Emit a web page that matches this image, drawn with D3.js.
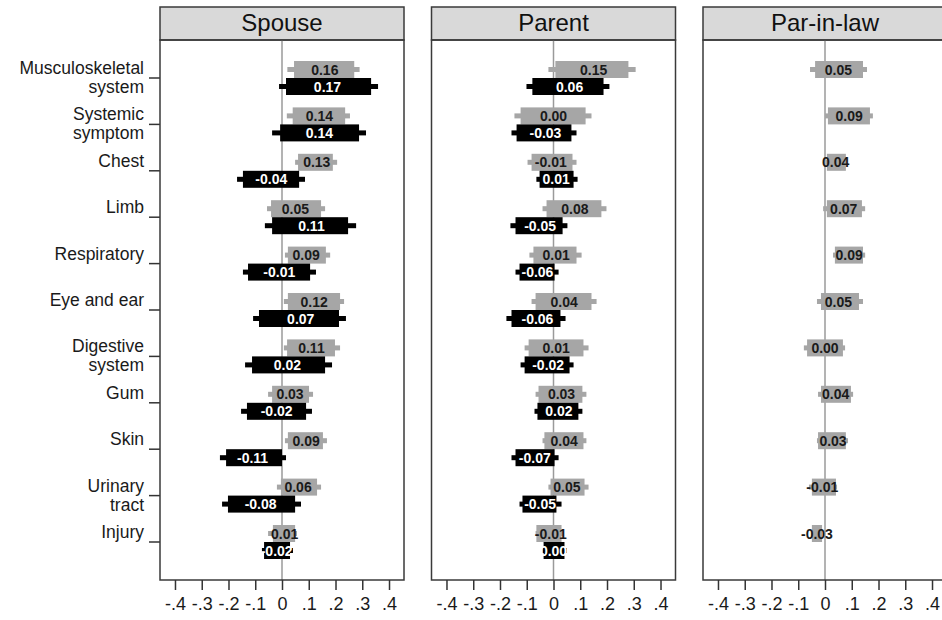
<!DOCTYPE html>
<html>
<head>
<meta charset="utf-8">
<script src="https://cdn.jsdelivr.net/npm/d3@7"></script>
<style>
body { margin: 0; background: #fff; }
svg { display: block; font-family: Arial, "Liberation Sans", sans-serif; }
</style>
</head>
<body>
<div id="chart"></div>
<script>
// categories (top to bottom), label lines
let categories = ["Musculoskeletal system", "Systemic symptom", "Chest", "Limb", "Respiratory",
  "Eye and ear", "Digestive system", "Gum", "Skin", "Urinary tract", "Injury"];
let catLines = [["Musculoskeletal", "system"], ["Systemic", "symptom"], ["Chest"], ["Limb"], ["Respiratory"],
  ["Eye and ear"], ["Digestive", "system"], ["Gum"], ["Skin"], ["Urinary", "tract"], ["Injury"]];

let panels = ["Spouse", "Parent", "Par-in-law"];
let ticks = [-0.4, -0.3, -0.2, -0.1, 0, 0.1, 0.2, 0.3, 0.4];

// estimates + intervals [outer lo, inner lo, inner hi, outer hi]
let spouseGreyEst = [0.16, 0.14, 0.13, 0.05, 0.09, 0.12, 0.11, 0.03, 0.09, 0.06, 0.01];
let spouseGreyCI = [[0.02, 0.045, 0.27, 0.29], [0.018, 0.04, 0.236, 0.254], [0.049, 0.06, 0.19, 0.206],
  [-0.056, -0.041, 0.146, 0.161], [0.011, 0.022, 0.164, 0.18], [0.007, 0.022, 0.217, 0.232],
  [0.007, 0.019, 0.198, 0.217], [-0.052, -0.037, 0.101, 0.116], [0.011, 0.022, 0.153, 0.168],
  [-0.019, -0.004, 0.131, 0.146], [-0.052, -0.034, 0.049, 0.056]];
let spouseBlackEst = [0.17, 0.14, -0.04, 0.11, -0.01, 0.07, 0.02, -0.02, -0.11, -0.08, -0.02];
let spouseBlackCI = [[-0.011, 0.015, 0.333, 0.359], [-0.037, -0.007, 0.288, 0.314], [-0.168, -0.146, 0.064, 0.086],
  [-0.064, -0.037, 0.247, 0.277], [-0.146, -0.127, 0.105, 0.127], [-0.108, -0.086, 0.213, 0.239],
  [-0.138, -0.112, 0.161, 0.187], [-0.153, -0.131, 0.09, 0.112], [-0.232, -0.209, 0, 0.015],
  [-0.224, -0.202, 0.049, 0.071], [-0.075, -0.067, 0.03, 0.041]];

let parentGreyEst = [0.15, 0.00, -0.01, 0.08, 0.01, 0.04, 0.01, 0.03, 0.04, 0.05, -0.01];
let parentGreyCI = [[-0.019, 0.007, 0.28, 0.307], [-0.146, -0.123, 0.12, 0.142], [-0.097, -0.082, 0.071, 0.086],
  [-0.041, -0.026, 0.179, 0.198], [-0.09, -0.075, 0.086, 0.105], [-0.082, -0.067, 0.142, 0.161],
  [-0.108, -0.093, 0.112, 0.131], [-0.067, -0.056, 0.108, 0.123], [-0.041, -0.034, 0.112, 0.123],
  [-0.019, -0.011, 0.116, 0.131], [-0.067, -0.064, 0.03, 0.034]];
let parentBlackEst = [0.06, -0.03, 0.01, -0.05, -0.06, -0.06, -0.02, 0.02, -0.07, -0.05, 0.00];
let parentBlackCI = [[-0.101, -0.079, 0.187, 0.209], [-0.157, -0.138, 0.067, 0.086], [-0.064, -0.052, 0.075, 0.09],
  [-0.161, -0.142, 0.034, 0.052], [-0.142, -0.127, 0.004, 0.019], [-0.176, -0.157, 0.026, 0.045],
  [-0.123, -0.108, 0.06, 0.075], [-0.071, -0.06, 0.093, 0.108], [-0.157, -0.142, 0.004, 0.019],
  [-0.127, -0.116, 0.011, 0.03], [-0.041, -0.037, 0.041, 0.049]];

let inlawGreyEst = [0.05, 0.09, 0.04, 0.07, 0.09, 0.05, 0.00, 0.04, 0.03, -0.01, -0.03];
let inlawGreyCI = [[-0.056, -0.037, 0.142, 0.157], [0, 0.011, 0.168, 0.179], [0.004, 0.007, 0.078, 0.08],
  [-0.007, 0.007, 0.138, 0.15], [0.03, 0.037, 0.142, 0.15], [-0.03, -0.015, 0.127, 0.142],
  [-0.079, -0.067, 0.067, 0.075], [-0.026, -0.015, 0.097, 0.105], [-0.03, -0.026, 0.078, 0.086],
  [-0.06, -0.049, 0.041, 0.045], [-0.049, -0.049, -0.011, -0.011]];

let series = [
  [{est: spouseGreyEst, ci: spouseGreyCI, grey: true}, {est: spouseBlackEst, ci: spouseBlackCI, grey: false}],
  [{est: parentGreyEst, ci: parentGreyCI, grey: true}, {est: parentBlackEst, ci: parentBlackCI, grey: false}],
  [{est: inlawGreyEst, ci: inlawGreyCI, grey: true}]
];

let width = 942, height = 620;
let panelW = 244, gap = 27.5, left0 = 160;
let headTop = 7, plotTop = 40, plotBottom = 580;

let svg = d3.select("#chart").append("svg")
  .attr("width", width)
  .attr("height", height);

let y = d3.scalePoint()
  .domain(categories)
  .range([78, 542]);

let greyCol = "#a6a6a6";

// category labels + ticks on the left
let catG = svg.append("g");
categories.forEach(function(c, i) {
  let lines = catLines[i];
  let t = catG.append("text")
    .attr("text-anchor", "end")
    .attr("font-size", 17.5)
    .attr("fill", "#1a1a1a");
  lines.forEach(function(l, j) {
    let base = lines.length == 1 ? y(c) - 4 : y(c) - 4 + j * 19;
    t.append("tspan").attr("x", 144).attr("y", base).text(l);
  });
  catG.append("line")
    .attr("x1", 149).attr("x2", left0)
    .attr("y1", y(c)).attr("y2", y(c))
    .attr("stroke", "#333").attr("stroke-width", 1.5);
});

let fmtTick = d => d == 0 ? "0" : (d < 0 ? "-" : "") + Math.abs(d).toFixed(1).replace(/^0/, "");

panels.forEach(function(name, p) {
  let x0 = left0 + p * (panelW + gap);
  let g = svg.append("g");

  let x = d3.scaleLinear()
    .domain([-0.456, 0.456])
    .range([x0, x0 + panelW]);

  // header strip
  g.append("rect")
    .attr("x", x0).attr("y", headTop)
    .attr("width", panelW).attr("height", plotTop - headTop)
    .attr("fill", "#d9d9d9").attr("stroke", "#3a3a3a").attr("stroke-width", 1.5);
  g.append("text")
    .attr("x", x0 + panelW / 2).attr("y", 31)
    .attr("text-anchor", "middle")
    .attr("font-size", 24)
    .attr("fill", "#111")
    .text(name);

  // zero line
  g.append("line")
    .attr("x1", x(0)).attr("x2", x(0))
    .attr("y1", plotTop).attr("y2", plotBottom)
    .attr("stroke", "#9a9a9a").attr("stroke-width", 1.5);

  series[p].forEach(function(s) {
    let off = s.grey ? -8.5 : 8.5;
    let col = s.grey ? greyCol : "#000";
    let rows = g.append("g").selectAll("g")
      .data(categories)
      .enter().append("g");

    rows.append("rect")
      .attr("x", (d, i) => x(s.ci[i][0]))
      .attr("width", (d, i) => x(s.ci[i][3]) - x(s.ci[i][0]))
      .attr("y", d => y(d) + off - 2.5)
      .attr("height", 5)
      .attr("fill", col);

    rows.append("rect")
      .attr("x", (d, i) => x(s.ci[i][1]))
      .attr("width", (d, i) => x(s.ci[i][2]) - x(s.ci[i][1]))
      .attr("y", d => y(d) + off - 8.5)
      .attr("height", 17)
      .attr("fill", col);

    rows.append("text")
      .attr("x", (d, i) => x(s.est[i]))
      .attr("y", d => y(d) + off)
      .attr("dy", "0.36em")
      .attr("text-anchor", "middle")
      .attr("font-size", 14)
      .attr("font-weight", "bold")
      .attr("fill", s.grey ? "#1a1a1a" : "#fff")
      .text((d, i) => s.est[i].toFixed(2));
  });

  // frame
  g.append("rect")
    .attr("x", x0).attr("y", plotTop)
    .attr("width", panelW).attr("height", plotBottom - plotTop)
    .attr("fill", "none").attr("stroke", "#3a3a3a").attr("stroke-width", 1.5);

  // x axis
  let axis = g.append("g")
    .attr("transform", "translate(0," + plotBottom + ")")
    .call(d3.axisBottom(x).tickValues(ticks).tickFormat(fmtTick).tickSize(10).tickPadding(7));
  axis.select(".domain").remove();
  axis.selectAll(".tick line").attr("stroke", "#333").attr("stroke-width", 1.5);
  axis.selectAll(".tick text")
    .attr("font-size", 18)
    .attr("font-family", "Arial, 'Liberation Sans', sans-serif")
    .attr("fill", "#1a1a1a");
});
</script>
</body>
</html>
